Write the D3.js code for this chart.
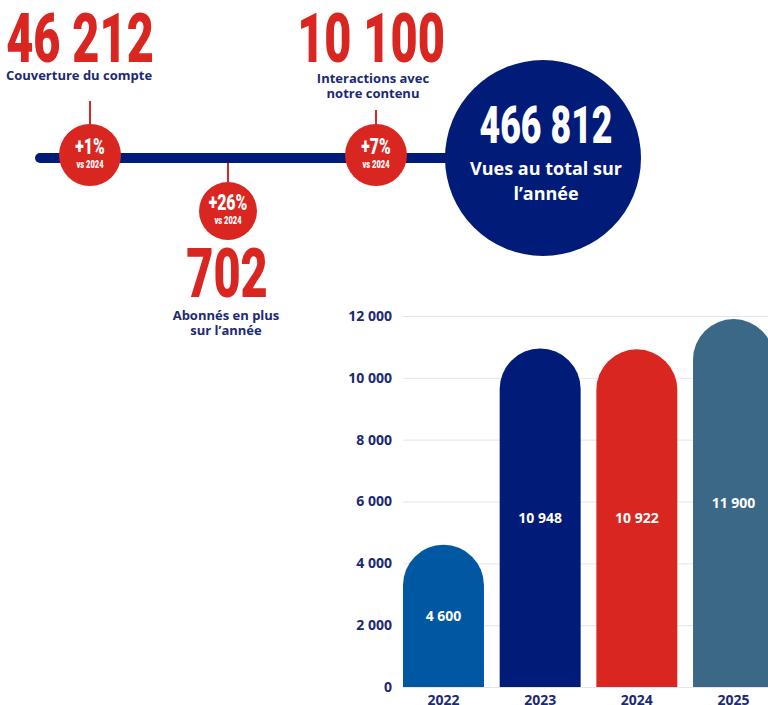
<!DOCTYPE html>
<html>
<head>
<meta charset="utf-8">
<script src="https://cdn.jsdelivr.net/npm/d3@7"></script>
<style>
  body { margin: 0; background: #fff; }
  svg { display: block; }
  .lbl { font-family: "Open Sans", sans-serif; font-weight: 700; }
  .big { font-family: Roboto, sans-serif; font-weight: 900; }
</style>
</head>
<body>
<div id="chart"></div>
<script>
// yearly views
var years = ["2022", "2023", "2024", "2025"];
var views = [4600, 10948, 10922, 11900];
var barColors = ["#0058a3", "#001b78", "#da2620", "#3c6887"];
var yTicks = [0, 2000, 4000, 6000, 8000, 10000, 12000];

// key figures along the timeline
var kpiValues = ["46 212", "702", "10 100"];
var kpiLabels = [["Couverture du compte"], ["Abonnés en plus", "sur l\u2019année"], ["Interactions avec", "notre contenu"]];
var kpiDeltas = ["+1%", "+26%", "+7%"];
var totalValue = "466 812";
var totalLabel = ["Vues au total sur", "l\u2019année"];

var red = "#da2620", navy = "#001b78", textNavy = "#1b2a75";
var W = 768, H = 705;

var svg = d3.select("#chart").append("svg").attr("width", W).attr("height", H);

var fr = d3.formatLocale({decimal: ",", thousands: " ", grouping: [3], currency: ["", " €"]});
var fmt = fr.format(",d");

// ---- timeline ----
svg.append("line")
  .attr("x1", 40).attr("x2", 470).attr("y1", 158).attr("y2", 158)
  .attr("stroke", navy).attr("stroke-width", 10).attr("stroke-linecap", "round");

// layout of each key figure (above or below the line)
var kpiPos = [
  {cx: 90, cy: 155, r: 31, conn: [101, 124], num: [80, 62], lab: [79, 80]},
  {cx: 228, cy: 211, r: 29, conn: [163, 182], num: [227, 297], lab: [226, 320]},
  {cx: 376, cy: 155, r: 31, conn: [110, 125], num: [371, 62], lab: [373, 83]}
];

kpiPos.forEach(function(p, i) {
  svg.append("line").attr("x1", p.cx).attr("x2", p.cx)
    .attr("y1", p.conn[0]).attr("y2", p.conn[1])
    .attr("stroke", red).attr("stroke-width", 2);
  svg.append("circle").attr("cx", p.cx).attr("cy", p.cy).attr("r", p.r).attr("fill", red);
  svg.append("text").attr("class", "big")
    .attr("transform", "translate(" + p.cx + "," + (p.cy - 1) + ") scale(0.72,1)")
    .attr("text-anchor", "middle").attr("fill", "#fff").attr("font-size", 22)
    .text(kpiDeltas[i]);
  svg.append("text").attr("class", "big")
    .attr("transform", "translate(" + p.cx + "," + (p.cy + 13) + ") scale(0.72,1)")
    .attr("text-anchor", "middle").attr("fill", "#fff").attr("font-size", 10.5)
    .text("vs 2024");
  svg.append("text").attr("class", "big")
    .attr("transform", "translate(" + p.num[0] + "," + p.num[1] + ") scale(0.68,1)")
    .attr("text-anchor", "middle").attr("fill", red).attr("font-size", 69)
    .text(kpiValues[i]);
  kpiLabels[i].forEach(function(t, j) {
    svg.append("text").attr("class", "lbl")
      .attr("x", p.lab[0]).attr("y", p.lab[1] + j * 15)
      .attr("text-anchor", "middle").attr("fill", textNavy).attr("font-size", 13)
      .text(t);
  });
});

// total circle
svg.append("circle").attr("cx", 543).attr("cy", 158).attr("r", 98).attr("fill", navy);
svg.append("text").attr("class", "big")
  .attr("transform", "translate(546,143) scale(0.7,1)")
  .attr("text-anchor", "middle").attr("fill", "#fff").attr("font-size", 51)
  .text(totalValue);
totalLabel.forEach(function(t, j) {
  svg.append("text").attr("class", "lbl")
    .attr("x", 546).attr("y", 175 + j * 25)
    .attr("text-anchor", "middle").attr("fill", "#fff").attr("font-size", 18)
    .text(t);
});

// ---- bar chart ----
var x = d3.scaleBand().domain(years).range([403, 774]).paddingInner(0.1625).paddingOuter(0);
var y = d3.scaleLinear().domain([0, 12000]).range([687, 316]);

var chart = svg.append("g");

chart.selectAll(".grid").data(yTicks).enter().append("line")
  .attr("class", "grid")
  .attr("x1", 403).attr("x2", W)
  .attr("y1", function(d) { return y(d) + 0.5; })
  .attr("y2", function(d) { return y(d) + 0.5; })
  .attr("stroke", "#e4e5ee").attr("stroke-width", 1);

var yAxis = chart.append("g").attr("transform", "translate(392,0)")
  .call(d3.axisLeft(y).tickValues(yTicks).tickFormat(fmt).tickSize(0).tickPadding(0));
yAxis.select(".domain").remove();
yAxis.selectAll("text").attr("class", "lbl").attr("font-size", 14).attr("fill", textNavy)
  .attr("text-anchor", "end");

var xAxis = chart.append("g").attr("transform", "translate(0,687)")
  .call(d3.axisBottom(x).tickSize(0).tickPadding(8));
xAxis.select(".domain").remove();
xAxis.selectAll("text").attr("class", "lbl").attr("font-size", 14).attr("fill", textNavy);

function barPath(d, i) {
  var x0 = x(years[i]), bw = x.bandwidth(), r = bw / 2;
  var top = y(d), base = y(0);
  return "M" + x0 + "," + base + "L" + x0 + "," + (top + r) +
    "A" + r + "," + r + " 0 0 1 " + (x0 + bw) + "," + (top + r) +
    "L" + (x0 + bw) + "," + base + "Z";
}

chart.selectAll(".bar").data(views).enter().append("path")
  .attr("class", "bar")
  .attr("d", barPath)
  .attr("fill", function(d, i) { return barColors[i]; });

chart.selectAll(".val").data(views).enter().append("text")
  .attr("class", "lbl val")
  .attr("x", function(d, i) { return x(years[i]) + x.bandwidth() / 2; })
  .attr("y", function(d) { return (y(d) + y(0)) / 2; })
  .attr("dy", "0.35em")
  .attr("text-anchor", "middle").attr("fill", "#fff").attr("font-size", 14)
  .text(function(d) { return fmt(d); });
</script>
</body>
</html>
